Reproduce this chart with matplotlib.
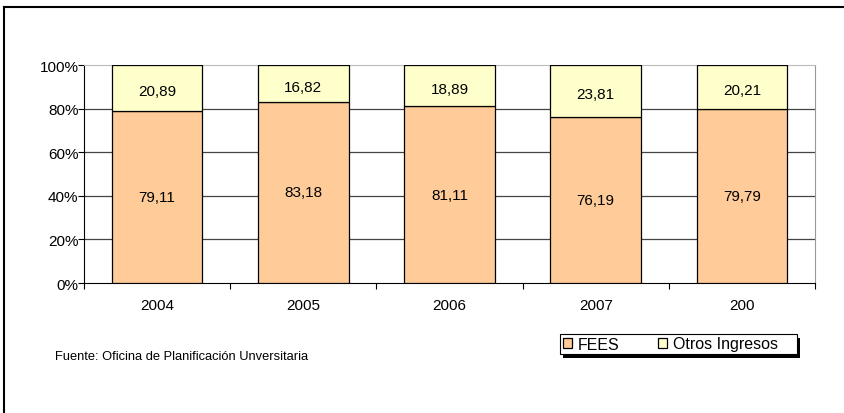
import numpy as np
import matplotlib.pyplot as plt
from matplotlib.lines import Line2D
from matplotlib.patches import Rectangle

years = ["2004", "2005", "2006", "2007", "200"]
fees = [79.11, 83.18, 81.11, 76.19, 79.79]
otros = [20.89, 16.82, 18.89, 23.81, 20.21]

plt.rcParams['font.family'] = ['Liberation Sans', 'DejaVu Sans']

fig = plt.figure(figsize=(8.45, 4.14), dpi=100)
ax = fig.add_axes([84 / 845, 1 - 284 / 414, 731 / 845, 218 / 414])

x = np.arange(len(years))
w = 0.62
b1 = ax.bar(x, fees, w, color="#FFCC99", edgecolor="black", linewidth=0.9, label="FEES", zorder=3)
b2 = ax.bar(x, otros, w, bottom=fees, color="#FFFFCC", edgecolor="black", linewidth=0.9,
            label="Otros Ingresos", zorder=3)

for i in range(len(years)):
    ax.text(x[i], fees[i] / 2, f"{fees[i]:.2f}".replace(".", ","), ha="center", va="center",
            fontsize=11, zorder=4)
    ax.text(x[i], fees[i] + otros[i] / 2 - 1.5, f"{otros[i]:.2f}".replace(".", ","), ha="center",
            va="center", fontsize=11, zorder=4)

ax.set_xlim(-0.5, len(years) - 0.5)
ax.set_ylim(0, 100)
ax.set_yticks([0, 20, 40, 60, 80, 100])
ax.set_yticklabels(["0%", "20%", "40%", "60%", "80%", "100%"], fontsize=11)
ax.set_xticks(x)
ax.set_xticklabels(years, fontsize=11)
ax.tick_params(axis="x", length=0, pad=11)
ax.tick_params(axis="y", length=4, width=0.8, pad=0)
ax.set_xticks(np.arange(-0.5, len(years)), minor=True)
ax.tick_params(axis="x", which="minor", length=4, width=0.8)

for yv in [20, 40, 60, 80]:
    ax.axhline(yv, color="#444444", linewidth=0.9, zorder=1)

ax.spines["left"].set_color("black")
ax.spines["bottom"].set_color("black")
ax.spines["top"].set_color("#bbbbbb")
ax.spines["right"].set_color("#999999")

# legend box with shadow, drawn by hand
W, H = 845, 414
fig.add_artist(Rectangle(((560 + 3) / W, 1 - (355 + 4) / H), 237 / W, 20 / H,
                         transform=fig.transFigure, facecolor="black", edgecolor="none", zorder=5))
fig.add_artist(Rectangle((560 / W, 1 - 355 / H), 237 / W, 20 / H,
                         transform=fig.transFigure, facecolor="white", edgecolor="black",
                         linewidth=0.8, zorder=6))
leg = fig.legend(handles=[b1, b2], loc="center left", bbox_to_anchor=(563 / W, 1 - 345 / H),
                 ncol=2, fontsize=11.5, frameon=False,
                 handlelength=0.55, handleheight=0.55, handletextpad=0.4,
                 columnspacing=2.4, borderpad=0, borderaxespad=0)
leg.set_zorder(7)

fig.text(55 / W, 1 - 357 / H, "Fuente: Oficina de Planificación Unversitaria", fontsize=9.3,
         va="center", ha="left")

# outer frame lines (left and top)
fig.add_artist(Line2D([4 / W, 4 / W], [0, 1 - 8 / H], color="black", linewidth=1.5,
                      transform=fig.transFigure))
fig.add_artist(Line2D([4 / W, 1], [1 - 8 / H, 1 - 8 / H], color="black", linewidth=1.5,
                      transform=fig.transFigure))

fig.savefig("out.png", dpi=100)
